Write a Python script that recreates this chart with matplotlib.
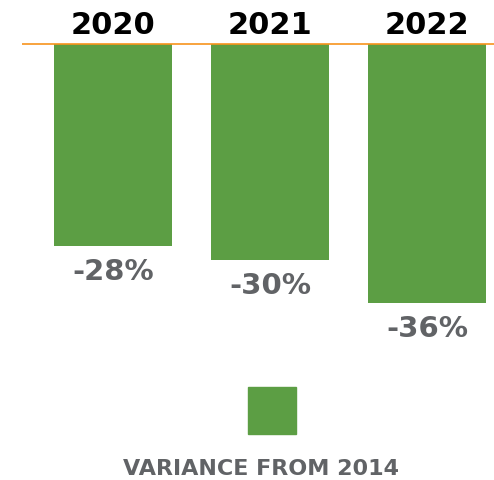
import matplotlib
matplotlib.use("Agg")
import matplotlib.pyplot as plt
from matplotlib.patches import Rectangle

years = ["2020", "2021", "2022"]
values = [-28, -30, -36]
value_labels = ["-28%", "-30%", "-36%"]
legend_label = "VARIANCE FROM 2014"

GREEN = "#5c9e44"
ORANGE = "#f7941d"
GREY = "#616366"

W, H = 494, 480
fig = plt.figure(figsize=(W / 100, H / 100), dpi=100)
ppu = 7.2  # pixels per percent
ax = fig.add_axes([22 / W, 0, 1 - 22 / W, 1])
x = list(range(len(years)))
ax.bar(x, values, width=0.75, color=GREEN, zorder=2)
ax.axhline(0, color=ORANGE, lw=1.2, zorder=3)
ax.set_xlim(-0.58, 2.427)
ax.set_ylim(-(H - 44) / ppu, 44 / ppu)
ax.axis("off")

font = "DejaVu Sans"
for xi, yr in zip(x, years):
    ax.text(xi, 19 / ppu, yr, ha="center", va="center", fontsize=22,
            fontweight="bold", color="black", family=font)
for xi, v, lab in zip(x, values, value_labels):
    ax.text(xi, v - 26 / ppu, lab, ha="center", va="center", fontsize=21,
            fontweight="bold", color=GREY, family=font)

fig.patches.append(Rectangle((248 / W, 1 - 434 / H), 48 / W, 47 / H,
                             transform=fig.transFigure, color=GREEN))
fig.text(261 / W, 1 - 469 / H, legend_label, ha="center", va="center",
         fontsize=16, fontweight="bold", color=GREY, family=font)

fig.savefig("out.png", dpi=100)
